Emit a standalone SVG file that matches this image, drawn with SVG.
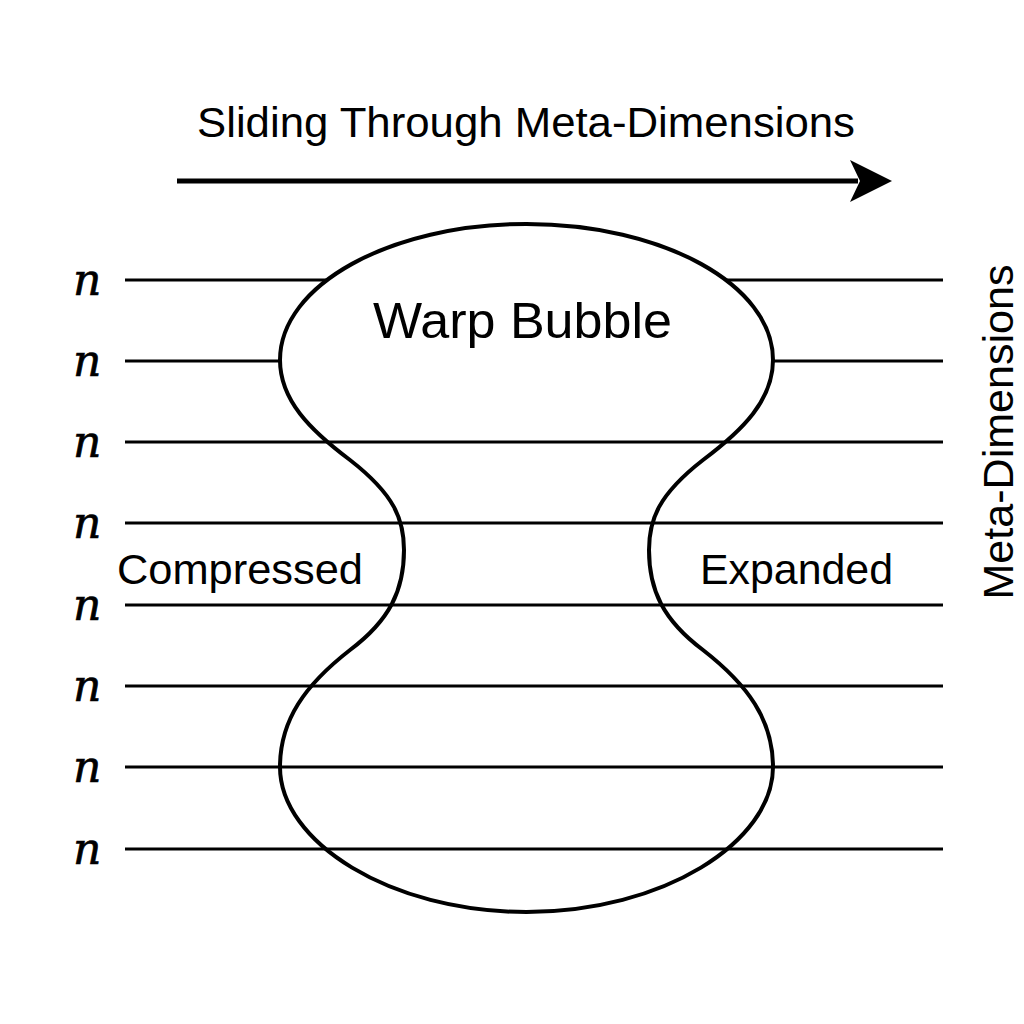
<svg xmlns="http://www.w3.org/2000/svg" width="1024" height="1024" viewBox="0 0 1024 1024">
<defs>
<style>
.ln{stroke:#000;stroke-width:3;fill:none}
.lbl{font-family:"Liberation Sans",Arial,sans-serif;fill:#000}
.n{font-family:"DejaVu Serif","Liberation Serif",serif;font-style:italic;font-size:44px;fill:#000;stroke:#000;stroke-width:0.7}
</style>
</defs>
<rect width="1024" height="1024" fill="#fff"/>
<g id="title">
<text class="lbl" x="526" y="137" font-size="43" text-anchor="middle" textLength="658" lengthAdjust="spacingAndGlyphs">Sliding Through Meta-Dimensions</text>
</g>
<g id="connectors">
<line x1="177" y1="181" x2="858" y2="181" stroke="#000" stroke-width="5"/>
<polygon points="892,181 850,160 860,181 850,202" fill="#000"/>
<line class="ln" x1="125" y1="280" x2="943" y2="280"/>
<line class="ln" x1="125" y1="361" x2="943" y2="361"/>
</g>
<g id="bubble">
<path d="M526.5,224 C390,224 280,285 280,360 C280,400 310,430 350,460 C395,495 404,520 404,550 C404,590 390,620 350,650 C305,685 280,720 280,767 C280,842 390,912 526.5,912 C663,912 773,842 773,767 C773,720 748,685 703,650 C663,620 649,590 649,550 C649,520 658,495 703,460 C743,430 773,400 773,360 C773,285 663,224 526.5,224 Z" fill="#fff" stroke="#000" stroke-width="4"/>
<text class="lbl" x="522.5" y="338" font-size="50" text-anchor="middle" textLength="299" lengthAdjust="spacingAndGlyphs">Warp Bubble</text>
</g>
<g id="lines">
<line class="ln" x1="125" y1="442" x2="943" y2="442"/>
<line class="ln" x1="125" y1="523" x2="943" y2="523"/>
<line class="ln" x1="125" y1="605" x2="943" y2="605"/>
<line class="ln" x1="125" y1="686" x2="943" y2="686"/>
<line class="ln" x1="125" y1="767" x2="943" y2="767"/>
<line class="ln" x1="125" y1="849" x2="943" y2="849"/>
</g>
<g id="n-labels">
<text class="n" x="73" y="295">n</text>
<text class="n" x="73" y="376">n</text>
<text class="n" x="73" y="457">n</text>
<text class="n" x="73" y="538">n</text>
<text class="n" x="73" y="620">n</text>
<text class="n" x="73" y="701">n</text>
<text class="n" x="73" y="782">n</text>
<text class="n" x="73" y="864">n</text>
</g>
<g id="compressed">
<text class="lbl" x="240" y="584" font-size="42" text-anchor="middle" textLength="246" lengthAdjust="spacingAndGlyphs">Compressed</text>
</g>
<g id="expanded">
<text class="lbl" x="796.5" y="584" font-size="42" text-anchor="middle" textLength="193" lengthAdjust="spacingAndGlyphs">Expanded</text>
</g>
<g id="axis-label">
<text class="lbl" x="0" y="0" font-size="42" text-anchor="middle" textLength="335" lengthAdjust="spacingAndGlyphs" transform="translate(1013,432) rotate(-90)">Meta-Dimensions</text>
</g>
</svg>
